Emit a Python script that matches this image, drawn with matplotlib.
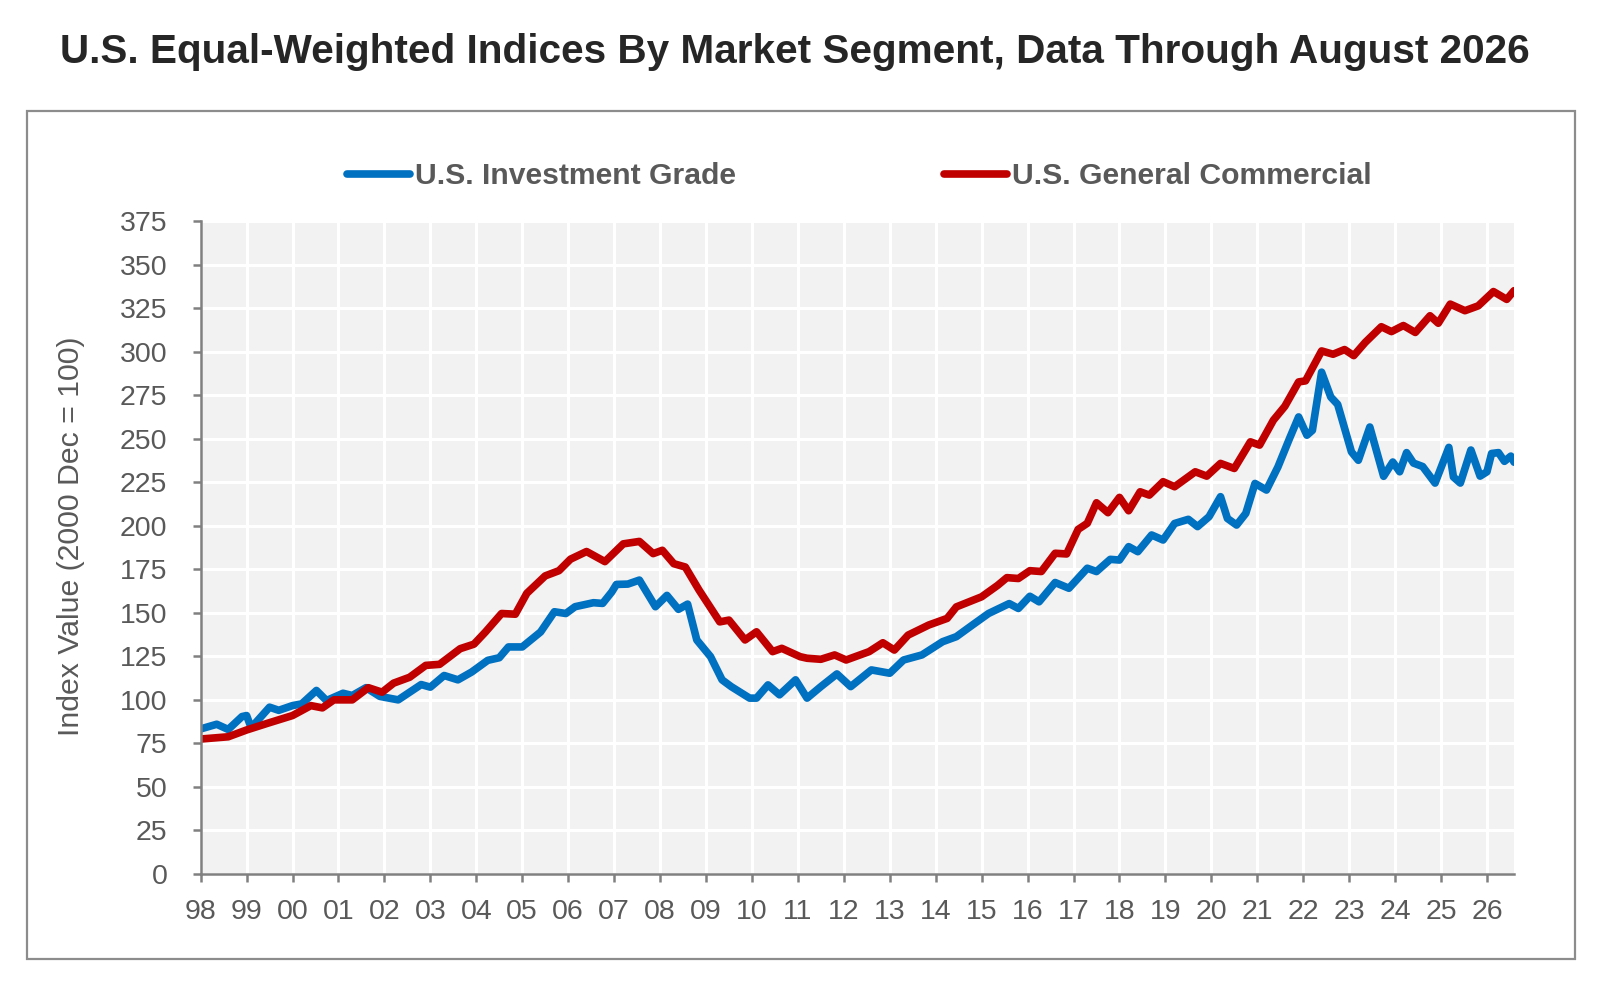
import matplotlib
matplotlib.use("Agg")
import matplotlib.pyplot as plt
from matplotlib.patches import Rectangle

plt.rcParams['font.family'] = ['Liberation Sans', 'DejaVu Sans']

# Values (decimal year, index value)
ig_years = [1998.00, 1998.35, 1998.60, 1998.90, 1999.00, 1999.10, 1999.50, 1999.70,
            2000.00, 2000.20, 2000.52, 2000.74, 2001.10, 2001.30, 2001.60, 2001.90,
            2002.30, 2002.80, 2003.00, 2003.30, 2003.60, 2003.90, 2004.25, 2004.50,
            2004.70, 2005.00, 2005.40, 2005.70, 2005.95, 2006.15, 2006.55, 2006.75,
            2006.95, 2007.05, 2007.30, 2007.55, 2007.90, 2008.15, 2008.40, 2008.60,
            2008.80, 2009.10, 2009.35, 2009.55, 2009.95, 2010.10, 2010.35, 2010.60,
            2010.95, 2011.20, 2011.50, 2011.85, 2012.15, 2012.60, 2013.00, 2013.30,
            2013.70, 2014.15, 2014.45, 2014.80, 2015.15, 2015.60, 2015.80, 2016.05,
            2016.25, 2016.60, 2016.90, 2017.30, 2017.50, 2017.80, 2018.00, 2018.20,
            2018.40, 2018.70, 2018.95, 2019.20, 2019.50, 2019.70, 2019.95, 2020.20,
            2020.35, 2020.55, 2020.75, 2020.95, 2021.20, 2021.45, 2021.70, 2021.90,
            2022.08, 2022.20, 2022.40, 2022.60, 2022.75, 2023.05, 2023.20, 2023.45,
            2023.75, 2023.95, 2024.10, 2024.25, 2024.40, 2024.60, 2024.87, 2025.17,
            2025.27, 2025.42, 2025.65, 2025.85, 2026.00, 2026.10, 2026.25, 2026.38,
            2026.52, 2026.59]
ig_values = [83.3, 86.0, 83.0, 90.4, 91.0, 84.0, 95.8, 94.0,
             96.7, 97.7, 105.4, 99.6, 103.8, 102.5, 107.0, 102.0,
             100.0, 108.8, 107.3, 114.0, 111.5, 116.0, 122.7, 124.2,
             130.4, 130.4, 139.0, 150.6, 149.6, 153.5, 155.8, 155.4,
             162.0, 166.3, 166.5, 168.8, 153.5, 160.0, 152.0, 155.0,
             134.4, 124.8, 111.5, 107.6, 101.0, 101.0, 108.6, 102.9,
             111.5, 101.0, 107.6, 114.9, 107.6, 117.2, 115.3, 122.9,
             125.8, 133.4, 136.3, 143.0, 149.6, 155.3, 152.5, 159.5,
             156.3, 167.4, 164.1, 175.6, 173.7, 180.7, 180.3, 188.0,
             185.1, 194.7, 191.8, 201.3, 203.7, 199.5, 205.2, 216.7,
             204.2, 200.4, 207.1, 224.3, 220.5, 233.8, 250.0, 262.5,
             252.0, 254.8, 288.2, 273.9, 269.7, 242.4, 237.6, 256.7,
             228.4, 236.6, 231.0, 242.0, 236.0, 234.0, 224.5, 245.0,
             228.0, 224.5, 243.5, 228.5, 231.0, 241.5, 242.0, 237.0,
             240.0, 236.5]

gc_years = [1998.00, 1998.60, 1999.00, 1999.45, 2000.00, 2000.40, 2000.65, 2000.90,
            2001.30, 2001.65, 2001.95, 2002.20, 2002.55, 2002.90, 2003.20, 2003.65,
            2003.95, 2004.20, 2004.55, 2004.85, 2005.10, 2005.50, 2005.80, 2006.05,
            2006.40, 2006.80, 2007.20, 2007.55, 2007.85, 2008.05, 2008.30, 2008.55,
            2008.85, 2009.30, 2009.50, 2009.85, 2010.10, 2010.45, 2010.65, 2011.05,
            2011.20, 2011.50, 2011.80, 2012.05, 2012.55, 2012.85, 2013.10, 2013.40,
            2013.85, 2014.25, 2014.45, 2015.00, 2015.35, 2015.55, 2015.80, 2016.05,
            2016.30, 2016.60, 2016.85, 2017.10, 2017.30, 2017.50, 2017.75, 2018.00,
            2018.20, 2018.45, 2018.65, 2018.95, 2019.20, 2019.65, 2019.90, 2020.20,
            2020.50, 2020.85, 2021.05, 2021.35, 2021.60, 2021.90, 2022.05, 2022.40,
            2022.65, 2022.90, 2023.10, 2023.35, 2023.70, 2023.92, 2024.18, 2024.44,
            2024.76, 2024.94, 2025.20, 2025.52, 2025.81, 2026.14, 2026.43, 2026.59]
gc_values = [77.5, 78.8, 82.7, 86.5, 91.0, 96.7, 95.4, 100.0,
             100.0, 107.0, 104.4, 109.6, 113.0, 119.8, 120.4, 129.4,
             132.0, 139.0, 149.6, 149.2, 161.2, 171.2, 174.2, 180.8,
             185.2, 179.4, 189.6, 191.0, 184.0, 185.9, 178.2, 176.3,
             163.0, 144.8, 145.8, 134.4, 139.1, 127.7, 129.6, 124.8,
             123.9, 123.3, 125.8, 122.9, 127.7, 132.8, 128.6, 137.2,
             143.0, 146.8, 153.4, 159.2, 165.8, 170.2, 169.7, 174.2,
             173.7, 184.2, 183.8, 197.9, 201.4, 213.2, 207.5, 216.3,
             208.6, 219.5, 217.6, 225.3, 222.4, 231.0, 228.5, 235.8,
             232.9, 248.2, 246.3, 260.6, 268.6, 282.6, 283.2, 300.4,
             298.5, 301.2, 297.7, 305.3, 314.3, 311.5, 315.0, 311.0,
             320.6, 316.3, 327.3, 323.5, 326.3, 334.5, 330.0, 335.0]

year_ticks = list(range(1998, 2027))
year_labels = [f"{y % 100:02d}" for y in year_ticks]
value_ticks = list(range(0, 376, 25))

grey_text = '#595959'

fig = plt.figure(figsize=(16, 9.85), dpi=100)
ax = fig.add_axes([0.1254, 0.1127, 0.8209, 0.6629])

# outer frame around the chart area
fig.patches.append(Rectangle((27 / 1600, 1 - 959 / 985), (1575 - 27) / 1600, (959 - 111) / 985,
                             transform=fig.transFigure, fill=False, edgecolor='#8c8c8c', linewidth=1.6))

ax.set_facecolor('#f2f2f2')
ax.plot(ig_years, ig_values, color='#0070C0', linewidth=5.5, solid_joinstyle='round',
        solid_capstyle='round', label='U.S. Investment Grade')
ax.plot(gc_years, gc_values, color='#C00000', linewidth=5.5, solid_joinstyle='round',
        solid_capstyle='round', label='U.S. General Commercial')

ax.set_xlim(1998, 2026.59)
ax.set_ylim(0, 375)
ax.set_xticks(year_ticks)
ax.set_xticklabels(year_labels)
ax.set_yticks(value_ticks)
ax.grid(True, color='white', linewidth=2.2)
ax.set_axisbelow(True)

for side in ['top', 'right']:
    ax.spines[side].set_visible(False)
for side in ['left', 'bottom']:
    ax.spines[side].set_color('#808080')
    ax.spines[side].set_linewidth(1.8)
ax.tick_params(axis='both', colors='#808080', labelcolor=grey_text, labelsize=20.5,
               length=6, width=1.8)
ax.tick_params(axis='y', pad=18)
ax.tick_params(axis='x', pad=12)
ax.set_ylabel('Index Value (2000 Dec = 100)', fontsize=21.8, color=grey_text, labelpad=25)
ax.yaxis.label.set_y(0.518)

fig.text(0.497, 0.947, 'U.S. Equal-Weighted Indices By Market Segment, Data Through August 2026',
         ha='center', va='center', fontsize=29.2, fontweight='bold', color='#262626')

fig.legend(loc='center', bbox_to_anchor=(0.537, 0.821), ncol=2, frameon=False,
           prop={'size': 21.7, 'weight': 'bold'}, labelcolor=grey_text,
           handlelength=2.1, handletextpad=0.15, columnspacing=6.9)

fig.savefig('out.png', dpi=100)
